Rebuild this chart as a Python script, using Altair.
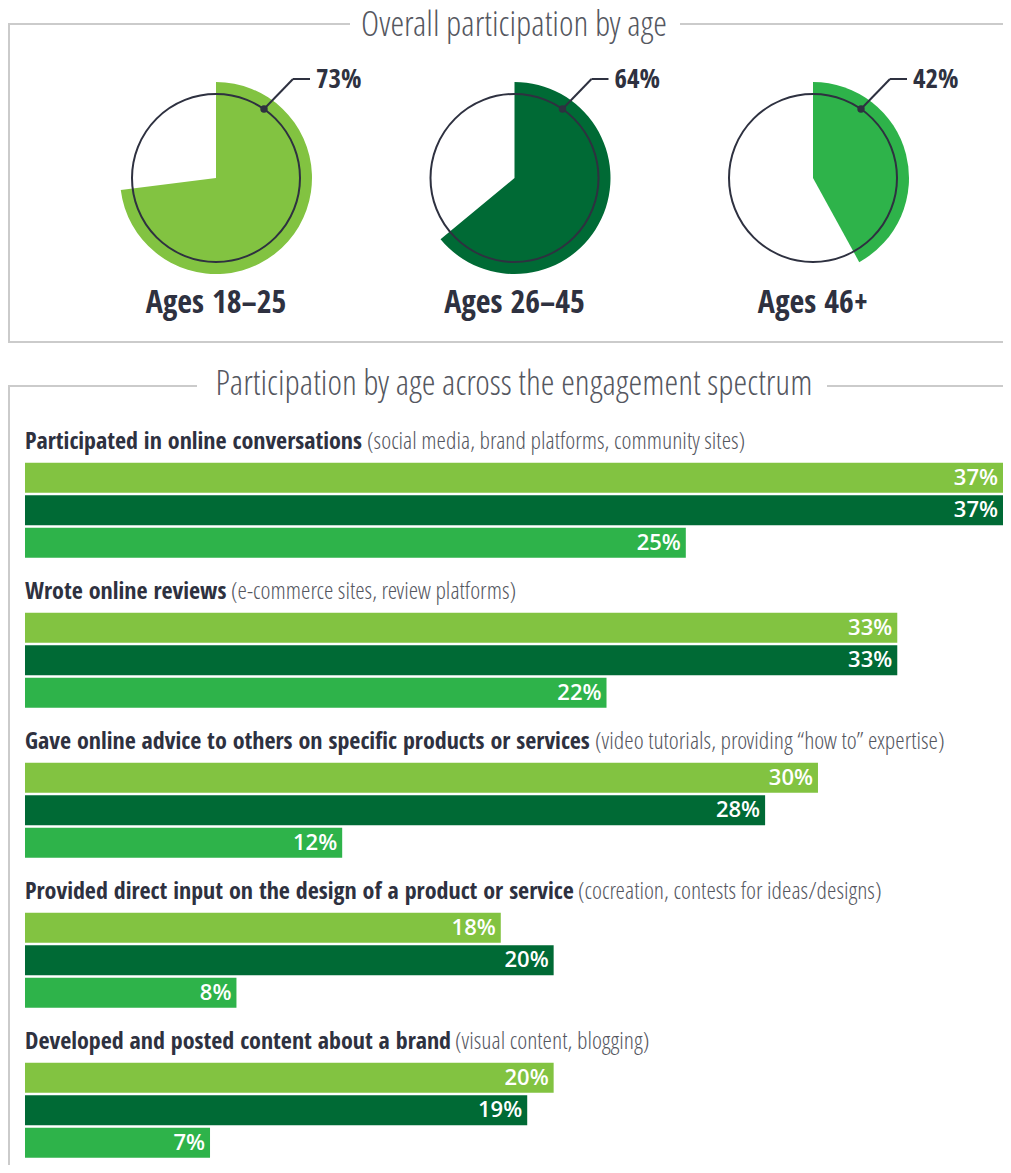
import math
import altair as alt
import pandas as pd

# ---------------- data ----------------
AGES = ["Ages 18–25", "Ages 26–45", "Ages 46+"]
OVERALL = [73, 64, 42]

ACTIVITIES = [
    "Participated in online conversations",
    "Wrote online reviews",
    "Gave online advice to others on specific products or services",
    "Provided direct input on the design of a product or service",
    "Developed and posted content about a brand",
]
DETAILS = [
    "(social media, brand platforms, community sites)",
    "(e-commerce sites, review platforms)",
    "(video tutorials, providing \u201chow to\u201d expertise)",
    "(cocreation, contests for ideas/designs)",
    "(visual content, blogging)",
]
P_18_25 = [37, 33, 30, 18, 20]
P_26_45 = [37, 33, 28, 20, 19]
P_46_UP = [25, 22, 12, 8, 7]

TITLE_TOP = "Overall participation by age"
TITLE_BOTTOM = "Participation by age across the engagement spectrum"

# ---------------- layout / style ----------------
PAREN_X = [359, 223, 587, 570, 447]   # where each light parenthetical starts (px)
COLORS = ["#82c341", "#006a35", "#2eb34a"]
DARK = "#2e3140"
GRAY_TXT = "#55575f"
LINE = "#cbcbcb"
COND = "'Open Sans Condensed', 'Roboto Condensed', 'Liberation Sans Narrow', 'Noto Sans', sans-serif"
LIGHT = "'Open Sans Condensed Light', 'Roboto Condensed Light', 'Roboto Condensed', 'Liberation Sans Narrow', sans-serif"
SANS = "'Open Sans', 'Noto Sans', sans-serif"
W, H = 995, 1157

one = pd.DataFrame({"k": [0]})


def hline(x1, x2, y):
    return alt.Chart(one).mark_rule(color=LINE, strokeWidth=2).encode(
        x=alt.value(x1), x2=alt.value(x2), y=alt.value(y))


def vline(x, y1, y2):
    return alt.Chart(one).mark_rule(color=LINE, strokeWidth=2).encode(
        x=alt.value(x), y=alt.value(y1), y2=alt.value(y2))


def title(txt, x, y):
    return alt.Chart(one).mark_text(
        text=txt, font=LIGHT, fontSize=35, fontWeight=300, color=GRAY_TXT,
        align="center", baseline="alphabetic").encode(x=alt.value(x), y=alt.value(y))


frame = [
    vline(1, 16, 334), hline(0, 342, 16), hline(672, W, 16), hline(0, W, 334),
    vline(1, 378, H), hline(0, 189, 378), hline(819, W, 378),
    title(TITLE_TOP, 506, 28), title(TITLE_BOTTOM, 506, 387),
]

# ---------------- pies ----------------
pie_df = pd.DataFrame({"age": AGES, "pct": OVERALL})
pie_base = alt.Chart(pie_df).transform_calculate(zero="0", label="datum.pct + '%'")
age_x = alt.X("age:N", scale=alt.Scale(type="point", domain=AGES, range=[208, 805], padding=0), axis=None)
color_enc = alt.Color("age:N", scale=alt.Scale(domain=AGES, range=COLORS), legend=None)
CY = 170

wedge = pie_base.mark_arc(radius=96).encode(
    x=age_x, y=alt.value(CY),
    theta=alt.Theta("zero:Q", scale=alt.Scale(domain=[0, 100], range=[0, 2 * math.pi]), stack=None),
    theta2=alt.Theta2("pct:Q"),
    color=color_enc,
)
ring = pie_base.mark_arc(radius=84, theta=0, theta2=2 * math.pi, fill="transparent",
                         stroke=DARK, strokeWidth=2).encode(x=age_x, y=alt.value(CY))
dot = pie_base.mark_circle(size=55, color=DARK, opacity=1, xOffset=48).encode(
    x=age_x, y=alt.value(CY - 69))
lead1 = pie_base.mark_rule(color=DARK, strokeWidth=2, xOffset=48, x2Offset=77).encode(
    x=age_x, x2=alt.X2("age"), y=alt.value(CY - 69), y2=alt.value(CY - 99))
lead2 = pie_base.mark_rule(color=DARK, strokeWidth=2, xOffset=77, x2Offset=94).encode(
    x=age_x, x2=alt.X2("age"), y=alt.value(CY - 99))
pct_lbl = pie_base.mark_text(align="left", baseline="alphabetic", dx=100, font=COND,
                             fontSize=27, fontWeight="bold", color=DARK).encode(
    x=age_x, y=alt.value(CY - 90), text="label:N")
age_lbl = pie_base.mark_text(align="center", baseline="alphabetic", font=COND,
                             fontSize=32, fontWeight="bold", color=DARK).encode(
    x=age_x, y=alt.value(305), text="age:N")

# ---------------- bars ----------------
rows = []
for i, act in enumerate(ACTIVITIES):
    for age, vals in zip(AGES, [P_18_25, P_26_45, P_46_UP]):
        rows.append({"activity": act, "age": age, "value": vals[i]})
bar_df = pd.DataFrame(rows)
head_df = pd.DataFrame({"activity": ACTIVITIES, "detail": DETAILS, "px": PAREN_X})

y_scale = alt.Scale(domain=ACTIVITIES, range=[454.7, 1149.7], paddingInner=0.3667, paddingOuter=0)
y_enc = alt.Y("activity:N", sort=ACTIVITIES, scale=y_scale, axis=None)
yoff = alt.YOffset("age:N", sort=AGES, scale=alt.Scale(domain=AGES, paddingInner=0.0769, paddingOuter=0))
x_bar = alt.X("value:Q", scale=alt.Scale(domain=[0, 37], range=[17, 995], nice=False, zero=True), axis=None)

bars = alt.Chart(bar_df).mark_bar().encode(x=x_bar, y=y_enc, yOffset=yoff, color=color_enc)
bar_lbl = alt.Chart(bar_df).transform_calculate(label="datum.value + '%'").mark_text(
    align="right", baseline="middle", dx=-5, color="white", font=SANS, fontSize=22,
    fontWeight=600).encode(x=x_bar, y=y_enc, yOffset=yoff, text="label:N")

y_head = alt.Y("activity:N", sort=ACTIVITIES, scale=y_scale, axis=None, bandPosition=0)
head_bold = alt.Chart(head_df).mark_text(
    align="left", baseline="alphabetic", dy=-13.7, font=COND, fontSize=24,
    fontWeight="bold", color=DARK).encode(x=alt.value(17), y=y_head, text="activity:N")
head_light = alt.Chart(head_df).mark_text(
    align="left", baseline="alphabetic", dy=-13.7, font=LIGHT, fontSize=24,
    fontWeight=300, color=GRAY_TXT).encode(
    x=alt.X("px:Q", scale=None, axis=None), y=y_head, text="detail:N")

chart = alt.layer(
    *frame, wedge, ring, lead1, lead2, dot, pct_lbl, age_lbl,
    bars, bar_lbl, head_bold, head_light,
).resolve_scale(x="independent").properties(
    width=W, height=H, padding=0, autosize="none"
).configure_view(stroke=None)

chart.save("out.html", embed_options={"renderer": "svg", "actions": False})
